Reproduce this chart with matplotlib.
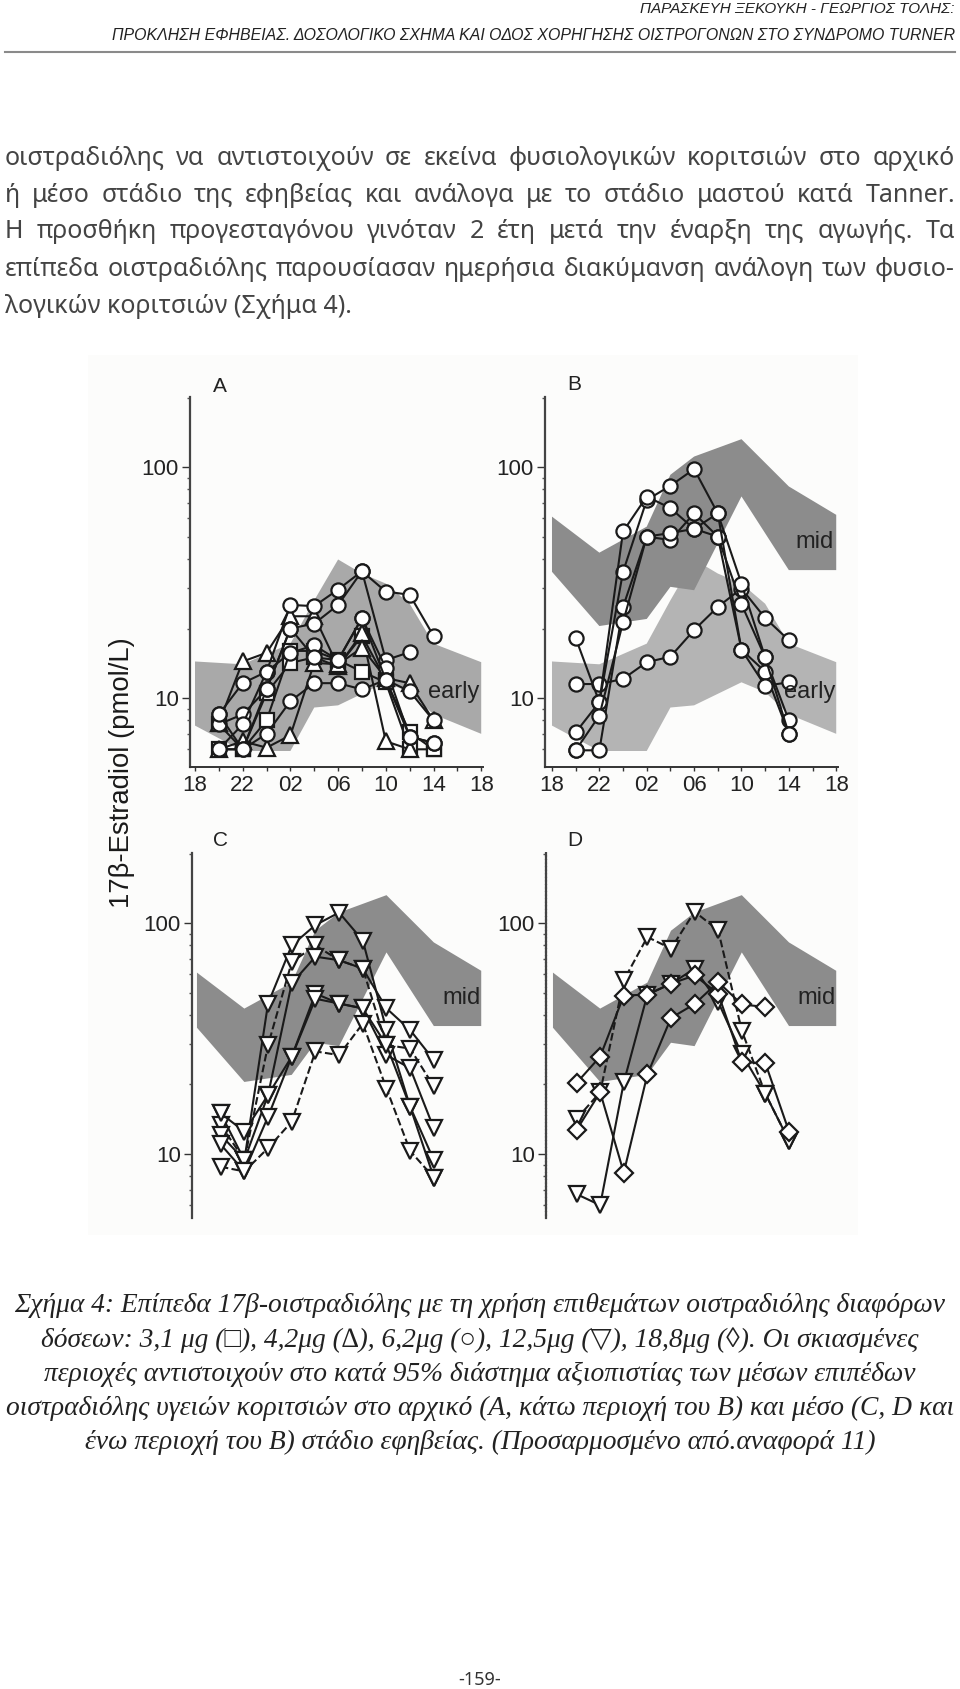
import matplotlib
matplotlib.use('Agg')
import matplotlib.pyplot as plt
import numpy as np
from matplotlib.patches import Rectangle
from matplotlib.ticker import FixedLocator, NullFormatter

W, H = 960, 1689

hours = [2, 4, 6, 8, 10, 12, 14, 16, 18, 20]
nan = np.nan

# 95% bands
early_x_up = [0, 4, 8, 10, 12, 14, 16, 18, 20, 24]
early_up = [14.4, 14.0, 17.2, 26.5, 39.8, 34.6, 31.3, 25.6, 17.2, 14.3]
early_x_lo = [0, 4, 8, 10, 12, 16, 18, 20, 24]
early_lo = [7.6, 5.9, 5.9, 9.1, 9.3, 11.7, 10.6, 8.5, 7.0]
mid_x_up = [0, 4, 8, 10, 12, 16, 20, 24]
mid_up = [61.0, 42.6, 55.2, 92.6, 111, 132, 82.4, 62.1]
mid_x_lo = [0, 4, 8, 10, 12, 16, 20, 24]
mid_lo = [35.2, 20.5, 22.0, 30.3, 29.3, 74.6, 35.8, 35.8]

# panel A
a_squares = [6, 6, 10.5, 14.2, 15.0, 13.7, 18.6, 12, 7.1, 6]
a_squares2 = [7.7, 6, 8, 16, 16, 14.6, 13, 11.7, 6, 6]
a_triangles = [7.8, 14.4, 15.7, 22.6, 22.6, 13.7, 19.1, 6.5, 6, nan]
a_triangles2 = [6, 6.5, 6.1, 6.9, 14.2, 14, 16.5, 12.2, 11.6, 8]
a_circles1 = [8.5, 11.6, 13, 25.3, 25, 29.5, 35.4, 28.9, 28, 18.6]
a_circles2 = [7.7, 8.5, 10.9, 20, 21, 25.3, 35.4, 14.6, 15.8, nan]
a_circles3 = [6, 7.7, 13, 15.7, 16.9, 14.6, 22.2, 13.5, 6.8, 6.4]
a_circles4 = [6, 6, 7, 9.7, 11.6, 11.6, 10.9, 12, 10.7, 8]
a_circles5 = [8.5, 6, 10.9, 20, 15, 14.6, 22.2, 12, 6.8, 6.4]

# panel B
b_series = [
    [11.5, 11.5, 12.1, 14.3, 15.1, 19.7, 24.8, 29.8, 22.2, 17.8],
    [18.2, 9.6, 35.2, 72, 83, 98, 63, 31.3, 15, 8],
    [7.1, 9.6, 52.6, 74.5, 66.4, 54, 50, 16.2, 13, 7],
    [5.94, 5.94, 24.8, 50, 48.3, 63, 50, 25.5, 15, 7],
    [5.94, 8.4, 21.3, 50, 51.8, 54, 63, 16.2, 11.3, 11.7],
]

# panel C
c_series = [
    [15, 9.4, 44.8, 80, 98, 111, 84, 34.4, 16.0, 7.9],
    [13.4, 9.4, 29.6, 67.7, 80, 69, 63.5, 29.6, 28.6, 19.6],
    [12.1, 9.4, 18, 54.8, 71.5, 69, 63.5, 42.7, 34.4, 25.5],
    [11, 8.4, 14.5, 26.4, 49.5, 44.8, 42.7, 26.8, 23.5, 12.9],
    [8.8, 8.4, 10.6, 13.8, 27.8, 26.8, 36.7, 19.2, 10.3, 7.9],
    [15, 12.5, 18, 26.4, 47, 44.8, 42.7, 29.6, 16, 9.4],
]
c_styles = ['-', '--', '-', '-', '--', '-']

# panel D
d_triangles1 = [14.2, 18.5, 56.5, 87, 77.5, 112, 93, 34.2, 18.2, 11.4]
d_triangles2 = [6.7, 6, 20.4, 49, 54.6, 63.4, 45.5, 27.1, 18.2, 11.4]
d_diamonds1 = [20.3, 26.4, 48.5, 49, 54.6, 59.3, 49.4, 25, 24.7, 12.5]
d_diamonds2 = [12.7, 18.5, 8.3, 22.1, 38.8, 44.6, 55.5, 44.4, 43.3, nan]

x_ticks = [0, 4, 8, 12, 16, 20, 24]
x_labels = ['18', '22', '02', '06', '10', '14', '18']

header1 = 'ΠΑΡΑΣΚΕΥΗ ΞΕΚΟΥΚΗ - ΓΕΩΡΓΙΟΣ ΤΟΛΗΣ:'
header2 = 'ΠΡΟΚΛΗΣΗ ΕΦΗΒΕΙΑΣ. ΔΟΣΟΛΟΓΙΚΟ ΣΧΗΜΑ ΚΑΙ ΟΔΟΣ ΧΟΡΗΓΗΣΗΣ ΟΙΣΤΡΟΓΟΝΩΝ ΣΤΟ ΣΥΝΔΡΟΜΟ TURNER'
body = [
    'οιστραδιόλης να αντιστοιχούν σε εκείνα φυσιολογικών κοριτσιών στο αρχικό',
    'ή μέσο στάδιο της εφηβείας και ανάλογα με το στάδιο μαστού κατά Tanner.',
    'Η προσθήκη προγεσταγόνου γινόταν 2 έτη μετά την έναρξη της αγωγής. Τα',
    'επίπεδα οιστραδιόλης παρουσίασαν ημερήσια διακύμανση ανάλογη των φυσιο-',
    'λογικών κοριτσιών (Σχήμα 4).',
]
body_y = [165, 202, 238, 276, 313]
caption = [
    'Σχήμα 4: Επίπεδα 17β-οιστραδιόλης με τη χρήση επιθεμάτων οιστραδιόλης διαφόρων',
    'δόσεων: 3,1 μg (□), 4,2μg (∆), 6,2μg (○), 12,5μg (▽), 18,8μg (◊). Οι σκιασμένες',
    'περιοχές αντιστοιχούν στο κατά 95% διάστημα αξιοπιστίας των μέσων επιπέδων',
    'οιστραδιόλης υγειών κοριτσιών στο αρχικό (A, κάτω περιοχή του B) και μέσο (C, D και',
    'ένω περιοχή του B) στάδιο εφηβείας. (Προσαρμοσμένο από.αναφορά 11)',
]
caption_y = [1305, 1340, 1374, 1408, 1442]

fig = plt.figure(figsize=(W / 100, H / 100), dpi=100)
fig.patches.append(Rectangle((88 / W, 1 - 1235 / H), 770 / W, 880 / H, transform=fig.transFigure,
                             fc='#fcfcfb', ec='none', zorder=-5))


def txt(x, y, s, **kw):
    kw.setdefault('va', 'center')
    return fig.text(x / W, 1 - y / H, s, **kw)


def make_ax(left, top, right, bottom, x0, ymin, show_x):
    ax = fig.add_axes([left / W, 1 - bottom / H, (right - left) / W, (bottom - top) / H])
    ax.patch.set_alpha(0)
    ax.set_xlim(x0, 24.15)
    ax.set_yscale('log')
    ax.set_ylim(ymin, 201)
    ax.spines['top'].set_visible(False)
    ax.spines['right'].set_visible(False)
    ax.spines['left'].set_color('#444444')
    ax.spines['left'].set_linewidth(1.6)
    ax.yaxis.set_major_locator(FixedLocator([10, 100]))
    ax.yaxis.set_minor_locator(FixedLocator([6, 7, 8, 9, 20, 30, 40, 50, 60, 70, 80, 90, 200]))
    ax.yaxis.set_minor_formatter(NullFormatter())
    ax.set_yticklabels(['10', '100'], fontsize=16, family='Liberation Sans', color='#222222')
    ax.tick_params(axis='y', which='major', length=6, width=1, pad=2, color='#333333')
    ax.tick_params(axis='y', which='minor', length=2, width=1, color='#555555')
    if show_x:
        ax.spines['bottom'].set_color('#333333')
        ax.spines['bottom'].set_linewidth(1.4)
        ax.set_xticks(x_ticks)
        ax.set_xticklabels(x_labels, fontsize=16, family='Liberation Sans', color='#222222')
        ax.set_xticks(range(2, 24, 4), minor=True)
        ax.tick_params(axis='x', which='major', length=3, width=1, pad=3, color='#333333')
        ax.tick_params(axis='x', which='minor', length=3, width=1, color='#333333')
    else:
        ax.spines['bottom'].set_visible(False)
        ax.set_xticks([])
    return ax


def band(ax, xu, yu, xl, yl, color):
    ax.fill(list(xu) + list(xl)[::-1], list(yu) + list(yl)[::-1], color=color, lw=0, zorder=1)


def series(ax, vals, marker, ls='-', size=10.2, z=3):
    ax.plot(hours, vals, ls=ls, lw=1.5, color='#1a1a1a', marker=marker, ms=size, mfc='white',
            mec='#1a1a1a', mew=1.6, zorder=z)


EARLY = '#b4b4b4'
MID = '#8c8c8c'

ax_a = make_ax(190, 397, 483, 767, -0.42, 5.03, True)
band(ax_a, early_x_up, early_up, early_x_lo, early_lo, '#a9a9a9')
for v in [a_squares, a_squares2]:
    series(ax_a, v, 's', size=9.5)
for v in [a_triangles, a_triangles2]:
    series(ax_a, v, '^', size=11)
for v in [a_circles1, a_circles2, a_circles3, a_circles4, a_circles5]:
    series(ax_a, v, 'o')

ax_b = make_ax(545, 397, 838, 767, -0.59, 5.03, True)
band(ax_b, early_x_up, early_up, early_x_lo, early_lo, EARLY)
band(ax_b, mid_x_up, mid_up, mid_x_lo, mid_lo, MID)
for v in b_series:
    series(ax_b, v, 'o')

ax_c = make_ax(192, 853, 483, 1218, -0.42, 5.28, False)
band(ax_c, mid_x_up, mid_up, mid_x_lo, mid_lo, MID)
for v, st in zip(c_series, c_styles):
    series(ax_c, v, 'v', ls=st, size=12)

ax_d = make_ax(546, 853, 838, 1218, -0.59, 5.28, False)
ax_d.spines['left'].set_linestyle((0, (1, 0.6)))
band(ax_d, mid_x_up, mid_up, mid_x_lo, mid_lo, MID)
series(ax_d, d_triangles1, 'v', ls='--', size=12)
series(ax_d, d_triangles2, 'v', size=12)
series(ax_d, d_diamonds1, 'D', size=9.5, z=4)
series(ax_d, d_diamonds2, 'D', size=9.5, z=4)

for x, y, s in [(220, 387, 'A'), (574, 385, 'B'), (220, 841, 'C'), (575, 841, 'D')]:
    txt(x, y, s, ha='center', fontsize=15, family='Liberation Sans', color='#222222')
for x, y, s in [(454, 692, 'early'), (810, 692, 'early'), (815, 542, 'mid'), (462, 998, 'mid'), (817, 998, 'mid')]:
    txt(x, y, s, ha='center', fontsize=17, family='Liberation Sans', color='#222222', zorder=6)

txt(122, 773, '17β-Estradiol (pmol/L)', rotation=90, ha='center', fontsize=19.8,
    family='Liberation Sans', color='#1a1a1a')

# page furniture
txt(955, 9, header1, ha='right', fontsize=11, style='italic', family='Liberation Sans', color='#222222')
txt(955, 35, header2, ha='right', fontsize=11.4, style='italic', family='Liberation Sans', color='#222222')
fig.add_artist(plt.Line2D([5 / W, 955 / W], [1 - 52 / H, 1 - 52 / H], color='#8a8a8a', lw=1.5))

renderer = fig.canvas.get_renderer()


def justified(words, y, x0, x1, **kw):
    items = [txt(x0, y, w, ha='left', va='baseline', **kw) for w in words]
    widths = [t.get_window_extent(renderer).width for t in items]
    gap = (x1 - x0 - sum(widths)) / max(len(words) - 1, 1)
    x = x0
    for t, w in zip(items, widths):
        t.set_x(x / W)
        x += w + gap


body_kw = dict(fontsize=18, family='Noto Sans', weight='light', color='#444444')
for i, (line, y) in enumerate(zip(body, body_y)):
    if i == len(body) - 1:
        txt(5, y, line, ha='left', va='baseline', **body_kw)
    else:
        justified(line.split(' '), y, 5, 955, **body_kw)

for line, y in zip(caption, caption_y):
    txt(480, y, line, ha='center', fontsize=19.8, style='italic',
        family=['Liberation Serif', 'DejaVu Sans'], color='#222222')

txt(480, 1680, '-159-', ha='center', fontsize=13, family='Noto Sans', weight='light', color='#333333')

fig.savefig('out.png', dpi=100)
